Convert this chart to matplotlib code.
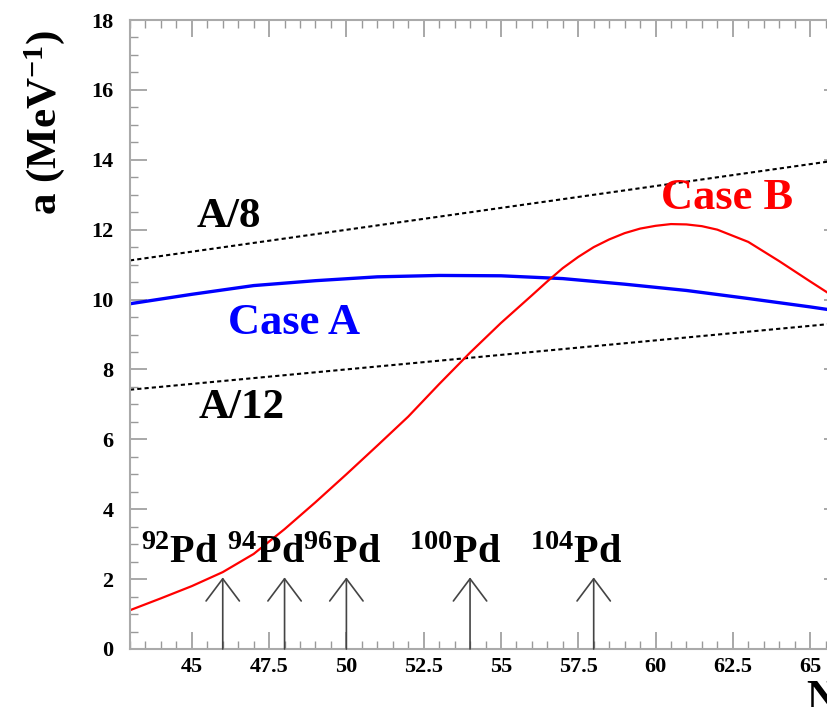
import matplotlib
matplotlib.use('Agg')
import matplotlib.pyplot as plt
from matplotlib.ticker import MultipleLocator, FuncFormatter

plt.rcParams['font.family'] = ['Liberation Serif', 'DejaVu Serif']
plt.rcParams['mathtext.fontset'] = 'custom'
plt.rcParams['mathtext.rm'] = 'Liberation Serif:bold'
plt.rcParams['mathtext.bf'] = 'Liberation Serif:bold'
plt.rcParams['mathtext.default'] = 'bf'

# reference lines A/8 and A/12 (endpoints)
ref_n = [43, 66]
a8_y = [11.12, 14.0]
a12_y = [7.42, 9.33]

# Case A (blue)
case_a_n = [43, 45, 47, 49, 51, 53, 55, 57, 59, 61, 63, 65, 66]
case_a_y = [9.88, 10.15, 10.4, 10.54, 10.65, 10.69, 10.68, 10.6, 10.44, 10.26, 10.03, 9.79, 9.66]

# Case B (red)
case_b_n = [43, 44, 45, 46, 47, 48, 49, 50, 51, 52, 53, 54, 55, 56, 56.5, 57, 57.5, 58,
            58.5, 59, 59.5, 60, 60.5, 61, 61.5, 62, 63, 64, 65, 66]
case_b_y = [1.11, 1.45, 1.8, 2.2, 2.72, 3.43, 4.2, 5.0, 5.82, 6.65, 7.58, 8.48,
            9.33, 10.12, 10.52, 10.9, 11.22, 11.5, 11.72, 11.9, 12.03, 12.11, 12.16, 12.15,
            12.1, 12.0, 11.65, 11.1, 10.52, 9.95]

# isotopes marked by arrows
iso_n = [46, 48, 50, 54, 58]
iso_labels = [r'$^{92}$Pd', r'$^{94}$Pd', r'$^{96}$Pd', r'$^{100}$Pd', r'$^{104}$Pd']
iso_label_x = [44.62, 47.4, 49.86, 53.52, 57.43]

fig = plt.figure(figsize=(8.27, 7.07), dpi=100)
ax = fig.add_axes([130 / 827, 58 / 707, 711 / 827, 629 / 707])

ax.plot(ref_n, a8_y, color='black', lw=1.5, ls=(0, (2, 1.5)))
ax.plot(ref_n, a12_y, color='black', lw=1.5, ls=(0, (2, 1.5)))
ax.plot(case_a_n, case_a_y, color='blue', lw=2.4)
ax.plot(case_b_n, case_b_y, color='red', lw=1.6)

for n in iso_n:
    ax.annotate('', xy=(n, 2.05), xytext=(n, 0),
                arrowprops=dict(arrowstyle='->,head_length=1.6,head_width=1.2',
                                color='#444444', lw=1.2, shrinkA=0, shrinkB=0))
for x, lab in zip(iso_label_x, iso_labels):
    ax.text(x, 2.46, lab, fontsize=29, fontweight='bold', ha='center', va='baseline')

ax.text(46.2, 12.35, 'A/8', fontsize=31, fontweight='bold', ha='center', va='center')
ax.text(46.6, 6.9, 'A/12', fontsize=31, fontweight='bold', ha='center', va='center')
ax.text(48.3, 9.33, 'Case A', fontsize=32, fontweight='bold', color='blue',
        ha='center', va='center')
ax.text(62.3, 12.9, 'Case B', fontsize=32, fontweight='bold', color='red',
        ha='center', va='center')

ax.set_xlim(43, 66)
ax.set_ylim(0, 18)
ax.xaxis.set_major_locator(MultipleLocator(2.5))
ax.xaxis.set_minor_locator(MultipleLocator(0.5))
ax.yaxis.set_major_locator(MultipleLocator(2))
ax.yaxis.set_minor_locator(MultipleLocator(0.5))
ax.xaxis.set_major_formatter(FuncFormatter(lambda v, p: '%g' % v))
ax.tick_params(which='both', direction='in', top=True, right=True, color='#999999')
ax.tick_params(which='major', length=12, width=1.2)
ax.tick_params(which='minor', length=6, width=1)
ax.tick_params(axis='y', labelsize=16, pad=12)
ax.tick_params(axis='x', labelsize=16, pad=6)
for lab in ax.get_xticklabels() + ax.get_yticklabels():
    lab.set_fontweight('bold')
for sp in ax.spines.values():
    sp.set_color('#aaaaaa')
    sp.set_linewidth(1.5)

fig.text(45 / 827, 1 - 122 / 707, r'a (MeV$^{-1}$)', fontsize=31, fontweight='bold',
         rotation=90, ha='center', va='center')
fig.text(806 / 827, 1 - 699 / 707, 'N', fontsize=30, fontweight='bold',
         ha='left', va='center')

fig.savefig('out.png', dpi=100)
